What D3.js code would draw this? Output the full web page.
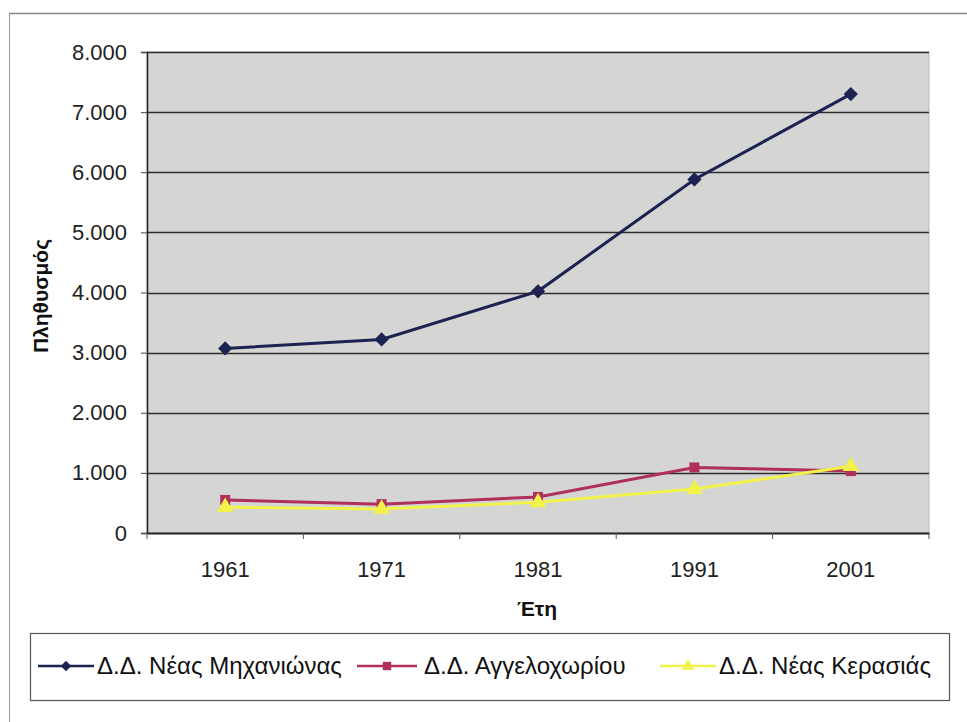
<!DOCTYPE html>
<html><head><meta charset="utf-8">
<script src="https://cdn.jsdelivr.net/npm/d3@7"></script>
<style>body{margin:0;background:#fff}svg{display:block}</style>
</head><body>
<svg id="c" width="967" height="722"></svg>
<script>
const years = ["1961","1971","1981","1991","2001"];
const neaMichaniona = [3070, 3220, 4020, 5880, 7300];
const aggelochori = [550, 480, 600, 1090, 1030];
const neaKerasia = [430, 400, 510, 730, 1110];
const seriesNames = ["Δ.Δ. Νέας Μηχανιώνας","Δ.Δ. Αγγελοχωρίου","Δ.Δ. Νέας Κερασιάς"];
const yTicks = [0,1000,2000,3000,4000,5000,6000,7000,8000];

const series = [
  {name: seriesNames[0], values: neaMichaniona, color: "#1c2352", sym: d3.symbolDiamond2, size: 130},
  {name: seriesNames[1], values: aggelochori, color: "#b0305a", sym: d3.symbolSquare, size: 100},
  {name: seriesNames[2], values: neaKerasia, color: "#f2f24a", sym: d3.symbolTriangle, size: 120}
];

const FONT = "Liberation Sans, Arial, sans-serif";
const svg = d3.select("#c");
const L = 147, R = 929, T = 52, B = 533;
const x = d3.scaleBand().domain(years).range([L, R]);
const y = d3.scaleLinear().domain([0, 8000]).range([B, T]);
const fmt = v => d3.format(",")(v).replace(/,/g, ".");

// outer frame
svg.append("line").attr("x1",9).attr("x2",967).attr("y1",13.5).attr("y2",13.5).attr("stroke","#888").attr("stroke-width",1.5);
svg.append("line").attr("x1",9.5).attr("x2",9.5).attr("y1",13).attr("y2",722).attr("stroke","#999").attr("stroke-width",1);

// plot background
svg.append("rect").attr("x",L).attr("y",T).attr("width",R-L).attr("height",B-T).attr("fill","#d5d6d3").attr("stroke","#bbb");

// gridlines
svg.append("g").selectAll("line").data(yTicks.filter(d=>d>0)).join("line")
  .attr("x1",L).attr("x2",R).attr("y1",d=>Math.round(y(d))+0.5).attr("y2",d=>Math.round(y(d))+0.5)
  .attr("stroke","#2e2e2e").attr("stroke-width",1.3);

// y axis
const ya = svg.append("g").attr("transform",`translate(${L},0)`)
  .call(d3.axisLeft(y).tickValues(yTicks).tickFormat(fmt).tickSize(6).tickPadding(14));
ya.attr("font-size",null).attr("font-family",null);
ya.select(".domain").attr("stroke","#222").attr("stroke-width",1.5);
ya.selectAll(".tick line").attr("stroke","#444");
ya.selectAll("text").style("font-family",FONT).style("font-size","22px").attr("fill","#222");

// x axis
const xa = svg.append("g").attr("transform",`translate(0,${B})`)
  .call(d3.axisBottom(x).tickSize(0).tickPadding(28));
xa.attr("font-size",null).attr("font-family",null);
xa.select(".domain").attr("stroke","#222").attr("stroke-width",2);
xa.selectAll("text").style("font-family",FONT).style("font-size","22px").attr("fill","#222");
const bounds = years.map(d=>x(d)).concat([R]);
svg.append("g").selectAll("line").data(bounds).join("line")
  .attr("x1",d=>d).attr("x2",d=>d).attr("y1",B).attr("y2",B+6).attr("stroke","#555");

// axis titles
svg.append("text").attr("x",537).attr("y",616).attr("text-anchor","middle")
  .style("font-family",FONT).style("font-weight","bold").style("font-size","21px").attr("fill","#111").text("Έτη");
svg.append("text").attr("transform","translate(48,296) rotate(-90)").attr("text-anchor","middle")
  .style("font-family",FONT).style("font-weight","bold").style("font-size","21px").attr("fill","#111").text("Πληθυσμός");

// lines & markers
const line = d3.line().x((d,i)=>x(years[i])+x.bandwidth()/2).y(d=>y(d));
series.forEach(s=>{
  svg.append("path").datum(s.values).attr("d",line).attr("fill","none").attr("stroke",s.color).attr("stroke-width",3);
  svg.append("g").selectAll("path").data(s.values).join("path")
    .attr("transform",(d,i)=>`translate(${x(years[i])+x.bandwidth()/2},${y(d)})`)
    .attr("d",d3.symbol().type(s.sym).size(s.size)).attr("fill",s.color);
});

// legend
svg.append("rect").attr("x",30.5).attr("y",633.5).attr("width",919).attr("height",67).attr("fill","#fff").attr("stroke","#555").attr("stroke-width",1.2);
const legX = [[38,94,97],[357,417,424],[660,716,719]];
series.forEach((s,i)=>{
  const [a,b,t] = legX[i];
  const g = svg.append("g");
  g.append("line").attr("x1",a).attr("x2",b).attr("y1",666).attr("y2",666).attr("stroke",s.color).attr("stroke-width",2.5);
  g.append("path").attr("transform",`translate(${(a+b)/2},666)`).attr("d",d3.symbol().type(s.sym).size(70)).attr("fill",s.color);
  g.append("text").attr("x",t).attr("y",674).style("font-family",FONT).style("font-size","24px").attr("fill","#111").text(s.name);
});
</script>
</body></html>
